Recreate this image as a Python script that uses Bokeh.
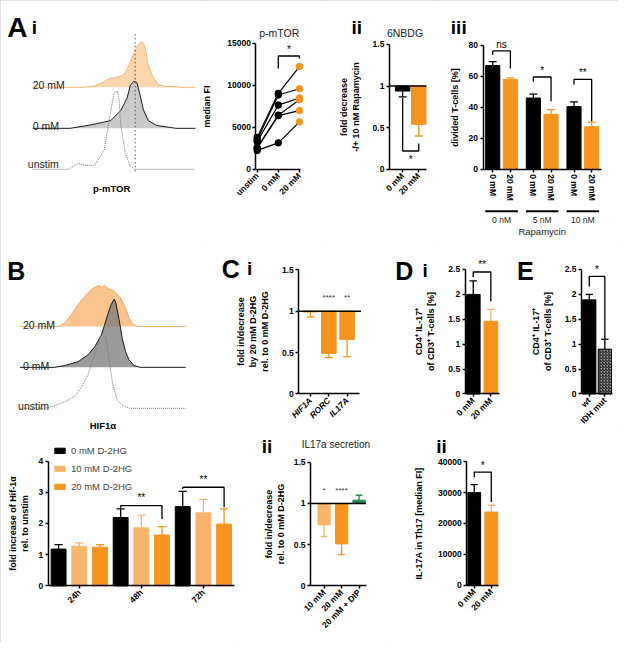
import math
from bokeh.plotting import figure
from bokeh.layouts import row, column
from bokeh.models import Range1d, FixedTicker, Label, Legend, LegendItem
from bokeh.core.properties import value
from bokeh.embed import file_html
from bokeh.resources import INLINE

FONT = "Liberation Sans"
BLACK = "#000000"
ORANGE = "#f7941d"
LORANGE = "#f9b46c"
GREEN = "#1e8b4c"

# ---------------- data ----------------
# A i : p-mTOR flow histograms (intensity, events)
a_int_20 = [0, 31, 37, 43, 47, 51, 55, 57, 59, 61, 63, 65, 67, 68, 69, 70, 71, 73, 75, 77, 81, 85, 91, 100]
a_cnt_20 = [0, 0, 1, 5, 9, 10, 12, 15, 22, 30, 38, 44, 47, 45, 40, 32, 23, 14, 8, 3, 1, 1, 0, 0]
a_int_0 = [0, 23, 34, 40, 48, 54, 58, 60, 62, 64, 66, 68, 71, 76, 84, 88, 100]
a_cnt_0 = [0, 0, 3, 5, 8, 18, 31, 44, 48, 47, 34, 19, 8, 3, 1, 0, 0]
a_int_un = [0, 22, 25, 28, 32, 38, 44, 48, 50, 52, 53, 54, 57, 60, 63, 100]
a_cnt_un = [0, 0, 3, 6, 4, 4, 20, 60, 78, 80, 73, 46, 16, 3, 0, 0]
a_marker = 63
hist_labels = ["20 mM", "0 mM", "unstim"]

# A : p-mTOR median FI (paired donors)
mtor_labels = ["unstim", "0 mM", "20 mM"]
mtor_unstim = [3800, 3500, 3300, 2600, 2500, 2250]
mtor_0mm = [9050, 8850, 7650, 6450, 6400, 3150]
mtor_20mm = [12250, 9600, 8500, 8300, 7000, 5650]

# A ii : 6NBDG
nbdg_labels = ["0 mM", "20 mM"]
nbdg_mean = [0.94, 0.54]
nbdg_err = [0.07, 0.14]

# A iii : divided T-cells
div_conc = ["0 mM", "20 mM"]
div_rapa = ["0 nM", "5 nM", "10 nM"]
div_0mm = [67.0, 46.0, 40.5]
div_0mm_err = [2.5, 2.5, 3.0]
div_20mm = [58.0, 35.5, 27.5]
div_20mm_err = [1.0, 3.0, 3.0]

# B : HIF1a histograms
b_int_20 = [0, 24, 28, 32, 36, 40, 44, 47, 49, 50, 52, 54, 58, 62, 65, 67, 69, 72, 102]
b_cnt_20 = [0, 0, 4, 13, 23, 31, 38, 41, 42, 39, 42, 39, 36, 29, 19, 9, 3, 0, 0]
b_int_0 = [0, 21, 28, 36, 42, 46, 50, 52, 54, 56, 58, 59, 61, 63, 65, 67, 70, 74, 102]
b_cnt_0 = [0, 0, 2, 6, 13, 21, 33, 43, 54, 64, 70, 66, 49, 29, 16, 8, 2, 0, 0]
b_int_un = [0, 15, 22, 28, 34, 38, 42, 46, 49, 51, 53, 55, 57, 60, 64, 68, 102]
b_cnt_un = [0, 0, 3, 7, 13, 22, 35, 55, 72, 78, 72, 48, 25, 8, 2, 0, 0]

# B : fold increase of Hif-1a
hif_times = ["24h", "48h", "72h"]
hif_legend = ["0 mM D-2HG", "10 mM D-2HG", "20 mM D-2HG"]
hif_0mm = [1.18, 2.19, 2.54]
hif_0mm_err = [0.14, 0.28, 0.49]
hif_10mm = [1.27, 1.86, 2.34]
hif_10mm_err = [0.11, 0.41, 0.43]
hif_20mm = [1.24, 1.63, 1.98]
hif_20mm_err = [0.08, 0.27, 0.49]

# C i : gene expression
gene_labels = ["HIF1A", "RORC", "IL17A"]
gene_fold = [0.99, 0.49, 0.66]
gene_err = [0.06, 0.05, 0.21]
gene_stars = ["", "****", "**"]

# C ii : IL17a secretion
il17_labels = ["10 mM", "20 mM", "20 mM + DIP"]
il17_fold = [0.74, 0.51, 1.04]
il17_err = [0.14, 0.13, 0.06]
il17_stars = ["*", "****", ""]

# D i : CD4+ IL-17+ of CD3+
th17_labels = ["0 mM", "20 mM"]
th17_pct = [2.00, 1.46]
th17_err = [0.27, 0.24]

# E : wt vs IDH mut
idh_labels = ["wt", "IDH mut"]
idh_pct = [1.89, 0.90]
idh_err = [0.11, 0.20]

# D ii : IL-17A MFI in Th17
mfi_labels = ["0 mM", "20 mM"]
mfi_val = [30000, 23700]
mfi_err = [2600, 2200]

# significance brackets: x0, x1, y, left end, right end, label, label y
mtor_sig = [(2, 3, 13500, 12000, 13200, "*", 14300)]
nbdg_sig = [(1, 2, 0.22, 0.86, 0.31, "*", 0.12)]
div_sig = [(0, 1, 76.4, 74, 65, "ns", 80.5), (2.3, 3.3, 59.6, 56.5, 44, "*", 63.5),
           (4.6, 5.6, 58, 54.8, 31, "**", 62.5)]
hif_sig = [(3, 5, 2.57, 2.5, 2.14, "**", 2.83), (6, 8, 3.16, 3.1, 2.52, "**", 3.42)]
th17_sig = [(1, 2, 2.45, 2.35, 1.86, "**", 2.6)]
idh_sig = [(1, 2, 2.36, 2.16, 1.11, "*", 2.5)]
mfi_sig = [(1, 2, 36650, 35000, 26950, "*", 38800)]

# ---------------- helpers ----------------
SX = 618 / 634
SY = 642 / 658
MAP = {}


def style_axis(ax):
    ax.axis_line_width = 1.5
    ax.axis_line_color = BLACK
    ax.major_tick_line_width = 1.5
    ax.major_tick_line_color = BLACK
    ax.major_tick_in = 0
    ax.major_tick_out = 3
    ax.minor_tick_line_color = None
    ax.major_label_text_font = FONT
    ax.major_label_text_font_style = "bold"
    ax.major_label_text_font_size = "8.5px"
    ax.major_label_text_color = BLACK
    ax.major_label_standoff = 2
    ax.axis_label_text_font = FONT
    ax.axis_label_text_font_style = "bold"
    ax.axis_label_text_font_size = "9px"
    ax.axis_label_text_color = BLACK
    ax.axis_label_standoff = 6


def make_panel(ox, oy, w, h, box, xlim, ylim, axes=True):
    """Figure whose frame fills the whole canvas; axes sit at fixed data locations."""
    rl, rr, rb, rt = box
    L = rl * SX - ox
    Rr = rr * SX - ox
    B = rb * SY - oy
    T = rt * SY - oy
    kx = (xlim[1] - xlim[0]) / (Rr - L)
    ky = (ylim[1] - ylim[0]) / (B - T)
    xr = Range1d(xlim[0] - L * kx, xlim[0] + (w - L) * kx)
    yr = Range1d(ylim[0] - (h - B) * ky, ylim[0] + B * ky)
    kw = {} if axes else dict(x_axis_type=None, y_axis_type=None)
    p = figure(width=w, height=h, x_range=xr, y_range=yr, min_border=0,
               output_backend="svg", toolbar_location=None, title=None, **kw)
    p.outline_line_color = None
    p.border_fill_color = "white"
    p.background_fill_color = "white"
    if axes:
        p.grid.grid_line_color = None
        for ax in list(p.xaxis) + list(p.yaxis):
            style_axis(ax)
        p.xaxis.fixed_location = ylim[0]
        p.xaxis.bounds = tuple(xlim)
        p.yaxis.fixed_location = xlim[0]
        p.yaxis.bounds = tuple(ylim)
    MAP[id(p)] = (xr.start, yr.end, kx, ky, ox, oy)
    return p


def RX(p, rx):
    xs, ye, kx, ky, ox, oy = MAP[id(p)]
    return xs + (rx * SX - ox) * kx


def RY(p, ry):
    xs, ye, kx, ky, ox, oy = MAP[id(p)]
    return ye - (ry * SY - oy) * ky


def cat_axis(p, xs, labels, orient=math.pi / 4):
    p.xaxis.ticker = FixedTicker(ticks=list(xs))
    p.xaxis.major_label_overrides = {x: l for x, l in zip(xs, labels)}
    p.xaxis.major_label_orientation = orient


def txt(p, x, y, text, size="9px", style="normal", align="left",
        baseline="alphabetic", color=BLACK):
    p.add_layout(Label(x=x, y=y, text=text, text_font=FONT, text_font_size=size,
                       text_font_style=style, text_align=align,
                       text_baseline=baseline, text_color=color))


def rtxt(p, rx, ry, text, **kw):
    txt(p, RX(p, rx), RY(p, ry), text, **kw)


def hist(p, xs, cnt, base, fill, line, dash="solid", alpha=1.0):
    ys = [base + c for c in cnt]
    if fill:
        p.varea(x=xs, y1=[base] * len(xs), y2=ys, fill_color=fill, fill_alpha=alpha)
    p.line(xs, ys, line_color=line, line_width=1, line_dash=dash)


def bars(p, xs, vals, errs, color, width, base=0.0, cap=0.55, err_color=None, **kw):
    tops, bots, ends = [], [], []
    for v, e in zip(vals, errs):
        if v >= base:
            tops.append(v); bots.append(base); ends.append(v + e)
        else:
            tops.append(base); bots.append(v); ends.append(v - e)
    ec = err_color if err_color is not None else color
    cw = width * cap
    p.segment(x0=xs, y0=vals, x1=xs, y1=ends, line_color=ec, line_width=1.3)
    p.segment(x0=[x - cw / 2 for x in xs], y0=ends, x1=[x + cw / 2 for x in xs], y1=ends,
              line_color=ec, line_width=1.3)
    lc = kw.pop("line_color", color)
    return p.vbar(x=xs, top=tops, bottom=bots, width=width, fill_color=color,
                  line_color=lc, line_width=1, **kw)


def brackets(p, sigs, size="10px"):
    for x0, x1, y, y0, y1, lab, ly in sigs:
        p.line(x=[x0, x0, x1, x1], y=[y0, y, y, y1], line_color=BLACK, line_width=1.3)
        txt(p, (x0 + x1) / 2, ly, lab, size=size, align="center", baseline="middle")


def ref_line(p, xlim, y):
    p.segment(x0=[xlim[0]], x1=[xlim[1]], y0=[y], y1=[y], line_color=BLACK, line_width=1.5)


# ---------------- Panel A i : histograms ----------------
pa = make_panel(0, 0, 200, 242, (33, 200, 248, 0), (0, 100), (0, 248), axes=False)
hist(pa, a_int_20, a_cnt_20, 159, "#fcd7ad", "#f5b577")
hist(pa, a_int_0, a_cnt_0, 117, "#c6c6c6", "#1a1a1a", alpha=0.92)
hist(pa, a_int_un, a_cnt_un, 75, None, "#777777", dash="1 1")
pa.line([a_marker, a_marker], [RY(pa, 175), RY(pa, 33)], line_color="#444444",
        line_dash="1 3", line_width=1.3)
rtxt(pa, 33, 87, hist_labels[0], size="10.5px", color="#222222")
rtxt(pa, 33, 129, hist_labels[1], size="10.5px", color="#222222")
rtxt(pa, 28, 168, hist_labels[2], size="10.5px", color="#222222")
rtxt(pa, 114, 192.5, "p-mTOR", size="9.5px", style="bold", align="center", baseline="middle")
rtxt(pa, 7, 28, "A", size="28px", style="bold")
rtxt(pa, 32, 28, "i", size="19px", style="bold")

# ---------------- Panel A : p-mTOR median FI ----------------
pm = make_panel(200, 0, 127, 242, (262, 308, 173, 44), (0.94, 3.06), (0, 15000))
xs3 = [1, 2, 3]
for u, z, t in zip(mtor_unstim, mtor_0mm, mtor_20mm):
    pm.line(xs3, [u, z, t], line_color=BLACK, line_width=1.2)
n = len(mtor_unstim)
pm.scatter([1] * n, mtor_unstim, size=6.5, color=BLACK)
pm.scatter([2] * n, mtor_0mm, size=6.5, color=BLACK)
pm.scatter([3] * n, mtor_20mm, size=6.5, color=ORANGE)
cat_axis(pm, xs3, mtor_labels)
pm.yaxis.ticker = FixedTicker(ticks=[0, 5000, 10000, 15000])
pm.yaxis.axis_label = "median FI"
pm.yaxis.axis_label_standoff = 12
brackets(pm, mtor_sig)
rtxt(pm, 286, 33, "p-mTOR", size="10.5px", align="center", baseline="middle", color="#222222")

# ---------------- Panel A ii : 6NBDG ----------------
pn = make_panel(327, 0, 107, 242, (399, 437, 173, 45), (0.18, 2.48), (0, 1.5))
xs2 = [1, 2]
bars(pn, [1], nbdg_mean[:1], nbdg_err[:1], BLACK, 0.9, base=1.0)
bars(pn, [2], nbdg_mean[1:], nbdg_err[1:], ORANGE, 0.9, base=1.0)
ref_line(pn, (0.18, 2.48), 1.0)
cat_axis(pn, xs2, nbdg_labels)
pn.yaxis.ticker = FixedTicker(ticks=[0, 0.5, 1.0, 1.5])
pn.yaxis.axis_label = "fold decrease\n-/+ 10 nM Rapamycin"
pn.yaxis.axis_label_standoff = 9
brackets(pn, nbdg_sig)
rtxt(pn, 360, 28, "ii", size="19px", style="bold")
rtxt(pn, 415, 33, "6NBDG", size="10.5px", align="center", baseline="middle", color="#222222")

# ---------------- Panel A iii : divided T-cells ----------------
pos0 = [g * 2.3 for g in range(len(div_rapa))]
pos1 = [g * 2.3 + 1 for g in range(len(div_rapa))]
pd3 = make_panel(434, 0, 184, 242, (495, 617, 173, 46), (-0.55, 6.18), (0, 80))
bars(pd3, pos0, div_0mm, div_0mm_err, BLACK, 0.8)
bars(pd3, pos1, div_20mm, div_20mm_err, ORANGE, 0.8)
ticks3 = sorted(pos0 + pos1)
labs3 = [div_conc[0] if t in pos0 else div_conc[1] for t in ticks3]
cat_axis(pd3, ticks3, labs3, orient="vertical")
pd3.yaxis.ticker = FixedTicker(ticks=[0, 20, 40, 60, 80])
pd3.yaxis.axis_label = "divided T-cells [%]"
pd3.yaxis.axis_label_standoff = 6
brackets(pd3, div_sig)
yline = RY(pd3, 216)
pd3.segment(x0=[p - 0.42 for p in pos0], x1=[p + 1.42 for p in pos0], y0=yline, y1=yline,
            line_color=BLACK, line_width=2)
for p0, lab in zip(pos0, div_rapa):
    txt(pd3, p0 + 0.5, RY(pd3, 225), lab, size="8.5px", align="center", baseline="middle",
        color="#222222")
txt(pd3, (pos0[0] + pos1[-1]) / 2, RY(pd3, 236.5), "Rapamycin", size="9.5px",
    align="center", baseline="middle", color="#222222")
rtxt(pd3, 462, 28, "iii", size="19px", style="bold")

# ---------------- Panel B : histograms ----------------
pbh = make_panel(0, 242, 216, 188, (20, 190, 442, 250), (0, 102), (0, 192), axes=False)
hist(pbh, b_int_20, b_cnt_20, 108, "#f9c48e", "#f4a95d")
hist(pbh, b_int_0, b_cnt_0, 66, "#7a7a7a", "#1a1a1a", alpha=0.75)
hist(pbh, b_int_un, b_cnt_un, 24, None, "#777777", dash="1 1")
rtxt(pbh, 23, 333, hist_labels[0], size="10.5px", color="#222222")
rtxt(pbh, 23, 375, hist_labels[1], size="10.5px", color="#222222")
rtxt(pbh, 18, 416, hist_labels[2], size="10.5px", color="#222222")
rtxt(pbh, 105, 436, "HIF1α", size="9.5px", style="bold", align="center", baseline="middle")
rtxt(pbh, 7, 277, "B", size="25px", style="bold")

# ---------------- Panel B : Hif-1a fold increase ----------------
pb = make_panel(0, 430, 239, 212, (49, 240, 600, 472), (-0.5, 8.5), (0, 4))
rs = []
for c, (vals, errs, col) in enumerate([(hif_0mm, hif_0mm_err, BLACK),
                                        (hif_10mm, hif_10mm_err, LORANGE),
                                        (hif_20mm, hif_20mm_err, ORANGE)]):
    xs = [g * 3 + c for g in range(len(hif_times))]
    rs.append(bars(pb, xs, vals, errs, col, 0.72))
cat_axis(pb, [g * 3 + 1 for g in range(len(hif_times))], hif_times)
pb.yaxis.ticker = FixedTicker(ticks=[0, 1, 2, 3, 4])
pb.yaxis.axis_label = "fold increase of Hif-1α\nrel. to unstim"
pb.yaxis.axis_label_standoff = 6
brackets(pb, hif_sig)
leg = Legend(items=[LegendItem(label=value(l), renderers=[r]) for l, r in zip(hif_legend, rs)],
             location=(53, 150), padding=0, spacing=7, glyph_width=13, glyph_height=7,
             label_height=10, label_standoff=5, label_text_font=FONT,
             label_text_font_size="9.5px", border_line_color=None,
             background_fill_alpha=0, margin=0)
pb.add_layout(leg)

# ---------------- Panel C i ----------------
pc1 = make_panel(216, 242, 174, 188, (306, 368, 403.3, 276), (0.36, 3.66), (0, 1.5))
bars(pc1, xs3, gene_fold, gene_err, ORANGE, 0.8, base=1.0)
ref_line(pc1, (0.36, 3.76), 1.0)
for x, s in zip(xs3, gene_stars):
    if s:
        txt(pc1, x, 1.17, s, size="8px", align="center", baseline="middle", color="#333333")
cat_axis(pc1, xs3, gene_labels)
pc1.xaxis.major_label_text_font_style = "bold italic"
pc1.yaxis.ticker = FixedTicker(ticks=[0, 0.5, 1.0, 1.5])
pc1.yaxis.axis_label = "fold in/decrease\nby 20 mM D-2HG\nrel. to 0 mM D-2HG"
pc1.yaxis.axis_label_standoff = 9
rtxt(pc1, 227, 275, "C", size="25px", style="bold")
rtxt(pc1, 253, 275, "i", size="19px", style="bold")

# ---------------- Panel C ii ----------------
pc2 = make_panel(239, 430, 151, 212, (318, 375, 600, 473.3), (0.22, 3.4), (0, 1.5))
bars(pc2, xs3, il17_fold, il17_err, [LORANGE, ORANGE, GREEN], 0.7, base=1.0)
ref_line(pc2, (0.22, 3.4), 1.0)
for x, s in zip(xs3, il17_stars):
    if s:
        txt(pc2, x, 1.16, s, size="8px", align="center", baseline="middle", color="#333333")
cat_axis(pc2, xs3, il17_labels)
pc2.yaxis.ticker = FixedTicker(ticks=[0, 0.5, 1.0, 1.5])
pc2.yaxis.axis_label = "fold in/decrease\nrel. to 0 mM D-2HG"
pc2.yaxis.axis_label_standoff = 5
rtxt(pc2, 268, 457, "ii", size="19px", style="bold")
rtxt(pc2, 344, 455, "IL17a secretion", size="10px", align="center", baseline="middle",
     color="#222222")

# ---------------- Panel D i ----------------
pd1 = make_panel(390, 242, 112, 188, (476.7, 511.7, 403.3, 275.7), (0.54, 2.48), (0, 2.5))
bars(pd1, [1], th17_pct[:1], th17_err[:1], BLACK, 0.78)
bars(pd1, [2], th17_pct[1:], th17_err[1:], ORANGE, 0.78, err_color=LORANGE)
cat_axis(pd1, xs2, th17_labels)
pd1.yaxis.ticker = FixedTicker(ticks=[0, 0.5, 1.0, 1.5, 2.0, 2.5])
pd1.yaxis.axis_label = "CD4⁺ IL-17⁺\nof CD3⁺ T-cells [%]"
pd1.yaxis.axis_label_standoff = 10
brackets(pd1, th17_sig)
rtxt(pd1, 405, 277, "D", size="25px", style="bold")
rtxt(pd1, 433, 277, "i", size="19px", style="bold")

# ---------------- Panel E ----------------
pe = make_panel(502, 242, 116, 188, (596, 628.3, 403.3, 275.7), (0.5, 2.52), (0, 2.5))
bars(pe, [1], idh_pct[:1], idh_err[:1], BLACK, 0.85)
bars(pe, [2], idh_pct[1:], idh_err[1:], "#9c9c9c", 0.85, err_color=BLACK,
     line_color=BLACK, hatch_pattern="right_diagonal_line", hatch_color="#111111",
     hatch_scale=3, hatch_weight=1)
cat_axis(pe, xs2, idh_labels)
pe.yaxis.ticker = FixedTicker(ticks=[0, 0.5, 1.0, 1.5, 2.0, 2.5])
pe.yaxis.axis_label = "CD4⁺ IL-17⁺\nof CD3⁺ T-cells [%]"
pe.yaxis.axis_label_standoff = 9
brackets(pe, idh_sig)
rtxt(pe, 530, 277, "E", size="25px", style="bold")

# ---------------- Panel D ii ----------------
pd2 = make_panel(390, 430, 228, 212, (478.3, 511, 599.3, 472.7), (0.56, 2.43), (0, 40000))
bars(pd2, [1], mfi_val[:1], mfi_err[:1], BLACK, 0.75)
bars(pd2, [2], mfi_val[1:], mfi_err[1:], ORANGE, 0.75, err_color=LORANGE)
cat_axis(pd2, xs2, mfi_labels)
pd2.yaxis.ticker = FixedTicker(ticks=[0, 10000, 20000, 30000, 40000])
pd2.yaxis.axis_label = "IL-17A in Th17 [median FI]"
pd2.yaxis.axis_label_standoff = 11
brackets(pd2, mfi_sig)
rtxt(pd2, 447, 457, "ii", size="19px", style="bold")

BORDER = {"outline": "1px solid #c4c4c4", "outline-offset": "-1px"}
layout = column(
    row(pa, pm, pn, pd3, styles=BORDER),
    row(pbh, pc1, pd1, pe),
    row(pb, pc2, pd2),
    styles=BORDER,
)

open("out.html", "w").write(file_html(layout, INLINE))
